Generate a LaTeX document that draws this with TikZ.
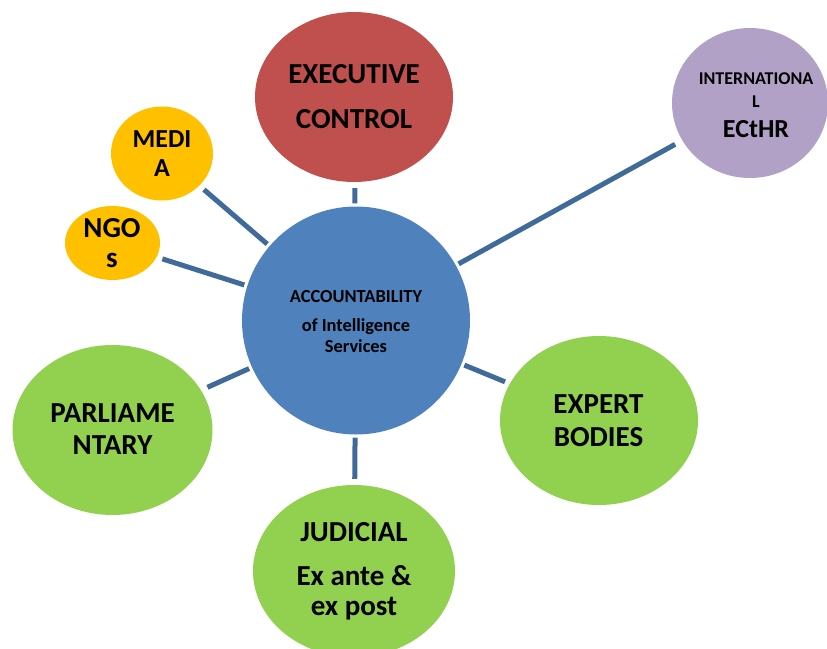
\documentclass[tikz,border=0pt]{standalone}
\usepackage{fontspec}
\setmainfont{Carlito}
\usetikzlibrary{shapes.geometric}
\definecolor{cblue}{HTML}{4F81BD}
\definecolor{lblue}{HTML}{3F6A9A}
\definecolor{cred}{HTML}{C0504D}
\definecolor{cviolet}{HTML}{B2A1C7}
\definecolor{cyellow}{HTML}{FFC000}
\definecolor{cgreen}{HTML}{92D050}
\tikzset{
  blob/.style={ellipse, inner sep=0pt, draw=none},
  conn/.style={draw=lblue, line width=5pt, line cap=butt, shorten <=3pt, shorten >=6pt},
  lbl/.style={anchor=base, inner sep=0pt, font=\bfseries\fontsize{#1}{#1}\selectfont},
  lbl/.default=29
}
\begin{document}
\begin{tikzpicture}[x=1pt,y=-1pt]
\useasboundingbox (0,0) rectangle (827,648);
\clip (0,0) rectangle (827,648);
% shapes
\node[blob, fill=cblue, circle, minimum size=228pt] (acc) at (356,320.5) {};
\node[blob, fill=cred, minimum width=198pt, minimum height=170pt] (exe) at (354,97) {};
\node[blob, fill=cviolet, minimum width=156pt, minimum height=150pt] (int) at (750,103) {};
\node[blob, fill=cyellow, minimum width=102pt, minimum height=94pt] (med) at (162,153.5) {};
\node[blob, fill=cyellow, minimum width=95pt, minimum height=74pt] (ngo) at (112.5,243) {};
\node[blob, fill=cgreen, minimum width=200pt, minimum height=170pt] (par) at (112.5,430) {};
\node[blob, fill=cgreen, minimum width=198pt, minimum height=169pt] (exp) at (599,420.5) {};
\node[blob, fill=cgreen, minimum width=202pt, minimum height=172pt] (jud) at (354,571) {};
% connectors
\draw[conn] (acc) -- (exe);
\draw[conn, shorten >=8pt] (acc) -- (int);
\draw[conn] (acc) -- (med);
\draw[conn] (acc) -- (ngo);
\draw[conn, shorten >=7pt] (acc) -- (par);
\draw[conn, shorten >=5pt] (acc) -- (exp);
\draw[conn] (acc) -- (jud);
% labels
\node[lbl=18.4] (acc1) at (356,302) {ACCOUNTABILITY};
\node[lbl=18.4] (acc2) at (356,331) {of Intelligence};
\node[lbl=18.4] (acc3) at (356,352) {Services};
\node[lbl] (exe1) at (354,83) {EXECUTIVE};
\node[lbl] (exe2) at (354,128) {CONTROL};
\node[lbl=18] (int1) at (756,84) {INTERNATIONA};
\node[lbl=18] (int2) at (756,107) {L};
\node[lbl=26] (int3) at (756,137) {ECtHR};
\node[lbl=26] (med1) at (162,147) {MEDI};
\node[lbl=26] (med2) at (162,176) {A};
\node[lbl] (ngo1) at (112,237) {NGO};
\node[lbl] (ngo2) at (112,267) {s};
\node[lbl] (par1) at (112.5,422) {PARLIAME};
\node[lbl] (par2) at (112.5,454) {NTARY};
\node[lbl] (exp1) at (598.5,413) {EXPERT};
\node[lbl] (exp2) at (598.5,446) {BODIES};
\node[lbl] (jud1) at (354,541) {JUDICIAL};
\node[lbl] (jud2) at (354,585) {Ex ante \&};
\node[lbl] (jud3) at (354,615) {ex post};
\end{tikzpicture}
\end{document}
